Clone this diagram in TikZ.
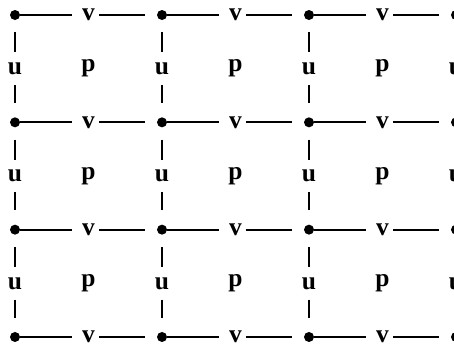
\documentclass[tikz,border=0pt]{standalone}
\usepackage{fontspec}
\setmainfont{Liberation Serif}
\usepackage{tikz}
\usetikzlibrary{positioning,calc}

\begin{document}
\begin{tikzpicture}[
    x=0.02cm, y=-0.02cm,
    dot/.style={circle, fill, inner sep=0pt, minimum size=0.2cm},
    var/.style={inner sep=0pt, font=\fontsize{14.5}{16}\selectfont\bfseries},
    edge/.style={line width=1.2pt}
]
    \useasboundingbox (0,0) rectangle (454,345);

    % grid points and unknowns
    \foreach \i in {0,...,3} {
        \foreach \j in {0,...,3} {
            \node[dot] (d\i\j) at ({15+147*\i},{15+107.33*\j}) {};
        }
    }
    \foreach \i in {0,1,2} {
        \foreach \j in {0,...,3} {
            \node[var] (v\i\j) at ({88.5+147*\i},{15+107.33*\j}) {v};
        }
    }
    \foreach \i in {0,...,3} {
        \foreach \j in {0,1,2} {
            \node[var] (u\i\j) at ({15+147*\i},{68.7+107.33*\j}) {u};
        }
    }
    \foreach \i in {0,1,2} {
        \foreach \j in {0,1,2} {
            \node[var] (p\i\j) at ({88.5+147*\i},{68.7+107.33*\j}) {p};
        }
    }

    % horizontal edges
    \foreach \i in {0,1,2} {
        \foreach \j in {0,...,3} {
            \pgfmathtruncatemacro{\ii}{\i+1}
            \draw[edge, shorten >=0.2cm] (d\i\j) -- (v\i\j);
            \draw[edge, shorten <=0.08cm, shorten >=0.24cm] (v\i\j) -- (d\ii\j);
        }
    }
    % vertical edges
    \foreach \i in {0,...,3} {
        \foreach \j in {0,1,2} {
            \pgfmathtruncatemacro{\jj}{\j+1}
            \draw[edge, shorten <=0.24cm, shorten >=0.2cm] (d\i\j) -- (u\i\j);
            \draw[edge, shorten <=0.2cm, shorten >=0.28cm] (u\i\j) -- (d\i\jj);
        }
    }
\end{tikzpicture}
\end{document}
